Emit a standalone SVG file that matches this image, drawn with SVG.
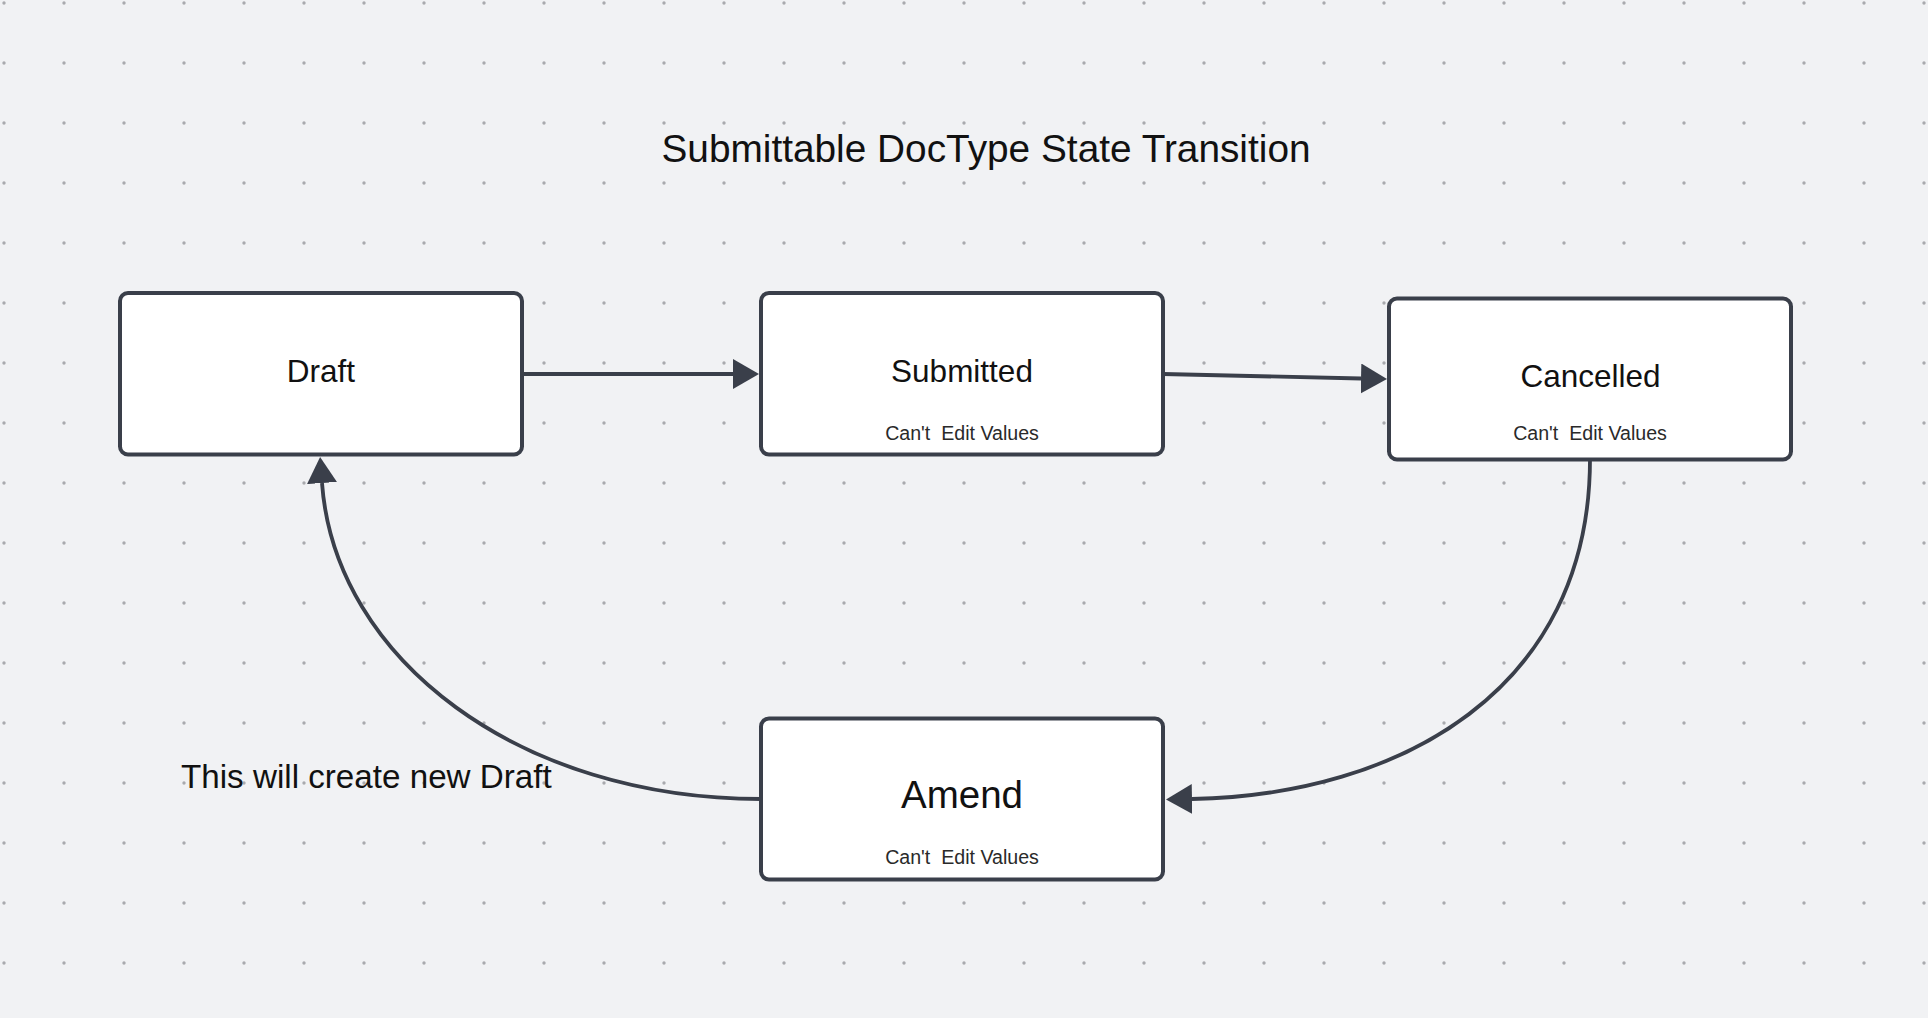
<svg xmlns="http://www.w3.org/2000/svg" width="1928" height="1018" viewBox="0 0 1928 1018">
  <style>
    .box { fill: #ffffff; stroke: #3a3f4a; stroke-width: 4; }
    .title { font-family: "Liberation Sans", Arial, sans-serif; font-size: 31.5px; fill: #111111; text-anchor: middle; }
    .big { font-size: 38.5px; }
    .sub { font-family: "Liberation Sans", Arial, sans-serif; font-size: 19.6px; fill: #2a2a2a; text-anchor: middle; white-space: pre; }
    .conn { fill: none; stroke: #3a3f4a; stroke-width: 3.8; }
    .label { font-family: "Liberation Sans", Arial, sans-serif; fill: #111111; }
  </style>
  <defs>
    <pattern id="dots" x="0" y="0" width="60" height="60" patternUnits="userSpaceOnUse">
      <circle cx="4" cy="3" r="1.7" fill="#a9aaae"/>
    </pattern>
    <marker id="arrow" markerUnits="userSpaceOnUse" markerWidth="27" markerHeight="31" refX="0" refY="15" orient="auto">
      <path d="M0,0 L26,15 L0,30 z" fill="#3a3f4a"/>
    </marker>
  </defs>

  <rect x="0" y="0" width="1928" height="1018" fill="#f1f2f4"/>
  <rect x="0" y="0" width="1928" height="1018" fill="url(#dots)"/>

  <text class="label" x="986" y="162" style="font-size:38.8px" text-anchor="middle">Submittable DocType State Transition</text>
  <text class="label" x="181" y="788" style="font-size:33.2px">This will create new Draft</text>

  <g id="connectors">
    <path class="conn" d="M522,374 L733,374" marker-end="url(#arrow)"/>
    <path class="conn" d="M1163,374 L1361,378.5" marker-end="url(#arrow)"/>
    <path class="conn" d="M1590,459 C1590,690 1400,795 1192,799" marker-end="url(#arrow)"/>
    <path class="conn" d="M761,799 C520,799 335,660 322,483" marker-end="url(#arrow)"/>
  </g>

  <g id="node-draft">
    <rect class="box" x="120" y="293" width="402" height="161.5" rx="8"/>
    <text class="title" x="321" y="381.5">Draft</text>
  </g>

  <g id="node-submitted">
    <rect class="box" x="761" y="293" width="402" height="161.5" rx="8"/>
    <text class="title" x="962" y="381.5">Submitted</text>
    <text class="sub" x="962" y="440">Can't  Edit Values</text>
  </g>

  <g id="node-cancelled">
    <rect class="box" x="1389" y="298.5" width="402" height="161" rx="8"/>
    <text class="title" x="1590.5" y="387">Cancelled</text>
    <text class="sub" x="1590" y="440">Can't  Edit Values</text>
  </g>

  <g id="node-amend">
    <rect class="box" x="761" y="718.5" width="402" height="161" rx="8"/>
    <text class="title big" x="962" y="808">Amend</text>
    <text class="sub" x="962" y="864">Can't  Edit Values</text>
  </g>
</svg>
